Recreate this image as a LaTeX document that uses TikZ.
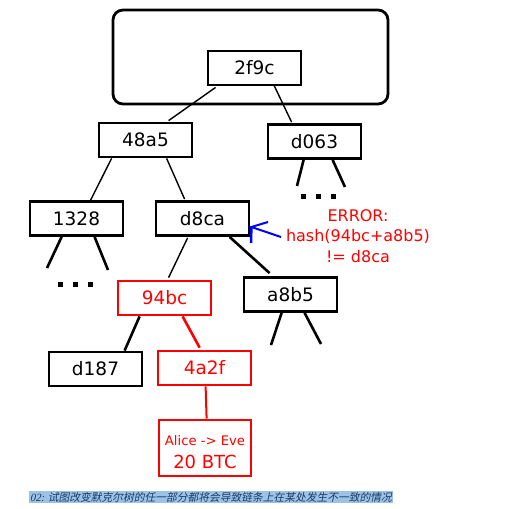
\documentclass[tikz,border=0pt]{standalone}
\usepackage{fontspec}
\setmainfont{DejaVu Sans}
\newfontfamily\cjkfont[FakeSlant=0.2]{Noto Sans CJK SC}
\newfontfamily\capfont[FakeSlant=0.2]{Liberation Serif}
\usetikzlibrary{calc}
\definecolor{hilite}{HTML}{9CC2E6}
\definecolor{captxt}{HTML}{1E3A66}
\tikzset{
  hbox/.style={draw, line width=2.8pt, minimum width=93pt, minimum height=34pt, inner sep=0pt, font=\fontsize{18.5}{20}\selectfont},
  redbox/.style={hbox, draw=red, text=red},
  thin/.style={line width=1.4pt},
  thick2/.style={line width=2.6pt},
  dotsq/.style={fill=black, minimum size=5pt, inner sep=0pt},
}
\begin{document}
\begin{tikzpicture}[x=1pt,y=-1pt]
\useasboundingbox (0,0) rectangle (520,509);
% block frame
\node[draw, line width=2.8pt, rounded corners=10pt, minimum width=275pt, minimum height=94pt] (blk) at (250.5,57) {};
% hash nodes
\node[hbox] (n2f9c) at (254.5,68) {2f9c};
\node[hbox] (n48a5) at (145.5,140) {48a5};
\node[hbox] (nd063) at (314.5,141.5) {d063};
\node[hbox] (n1328) at (76.5,218.5) {1328};
\node[hbox] (nd8ca) at (202.5,218.5) {d8ca};
\node[redbox] (n94bc) at (164.5,298) {94bc};
\node[hbox] (na8b5) at (290.5,294.5) {a8b5};
\node[hbox] (nd187) at (95.5,369) {d187};
\node[redbox] (n4a2f) at (204.5,368) {4a2f};
\node[draw=red, line width=2.8pt, minimum width=92pt, minimum height=56pt, inner sep=0pt] (alice) at (205,448) {};
\node[text=red, font=\fontsize{13.2}{15}\selectfont] (alicet) at (205,441) {Alice -> Eve};
\node[text=red, font=\fontsize{18}{20}\selectfont] (btc) at (205,462) {20 BTC};
% connectors
\draw[thin] ($(n2f9c.south west)+(9,1)$) -- ($(n48a5.north west)+(71,-1)$);
\draw[thin] ($(n2f9c.south west)+(67,-2)$) -- ($(nd063.north west)+(25,-1)$);
\draw[thin] ($(n48a5.south west)+(14,0)$) -- ($(n1328.north west)+(62,0)$);
\draw[thin] ($(n48a5.south west)+(69,0)$) -- ($(nd8ca.north west)+(30,-1)$);
\draw[thin] ($(nd8ca.south west)+(33,1)$) -- ($(n94bc.north west)+(52,-2)$);
\draw[thick2] ($(nd8ca.south west)+(75,0)$) -- ($(na8b5.north west)+(27,-3)$);
\draw[thick2] ($(n94bc.south west)+(23,0)$) -- ($(nd187.north west)+(77,0)$);
\draw[thick2, red] ($(n94bc.south west)+(66,0)$) -- ($(n4a2f.north west)+(43,-2)$);
\draw[red, line width=2pt] ($(n4a2f.south west)+(49,0)$) -- ($(alice.north west)+(49,0)$);
% open children
\coordinate (c1a) at (47,268);
\coordinate (c1b) at (108,270);
\coordinate (c2a) at (297,186);
\coordinate (c2b) at (345,187);
\coordinate (c3a) at (271,345);
\coordinate (c3b) at (321,344);
\draw[thick2] ($(n1328.south west)+(33,0)$) -- (c1a);
\draw[thick2] ($(n1328.south west)+(66,0)$) -- (c1b);
\draw[thick2] ($(nd063.south west)+(37,0)$) -- (c2a);
\draw[thick2] ($(nd063.south west)+(66,0)$) -- (c2b);
\draw[thick2] ($(na8b5.south west)+(39,0)$) -- (c3a);
\draw[thick2] ($(na8b5.south west)+(62,0)$) -- (c3b);
% dots
\foreach \i/\x in {1/60,2/75,3/90} \node[dotsq] (da\i) at (\x,284) {};
\foreach \i/\x in {1/303,2/318,3/333} \node[dotsq] (db\i) at (\x,196) {};
% error
\node[text=red, align=center, font=\fontsize{16}{20.5}\selectfont] (err) at (358,236) {ERROR:\\hash(94bc+a8b5)\\!= d8ca};
\coordinate (tip) at ($(nd8ca.east)+(1,8.5)$);
\coordinate (bu) at (268,222);
\coordinate (bl) at (281,237);
\coordinate (bd) at (251,243);
\draw[blue, line width=2pt] (bu) -- (tip) -- (bl);
\draw[blue, line width=2.5pt] (tip) -- (bd);
% caption
\fill[hilite] (29,491) rectangle (393,503);
\node[anchor=west, inner sep=0pt, text=captxt] (cap) at (30,497) {{\capfont\fontsize{11}{12}\selectfont 02:\,\,}{\cjkfont\fontsize{10.75}{12}\selectfont 试图改变默克尔树的任一部分都将会导致链条上在某处发生不一致的情况}};
\end{tikzpicture}
\end{document}
